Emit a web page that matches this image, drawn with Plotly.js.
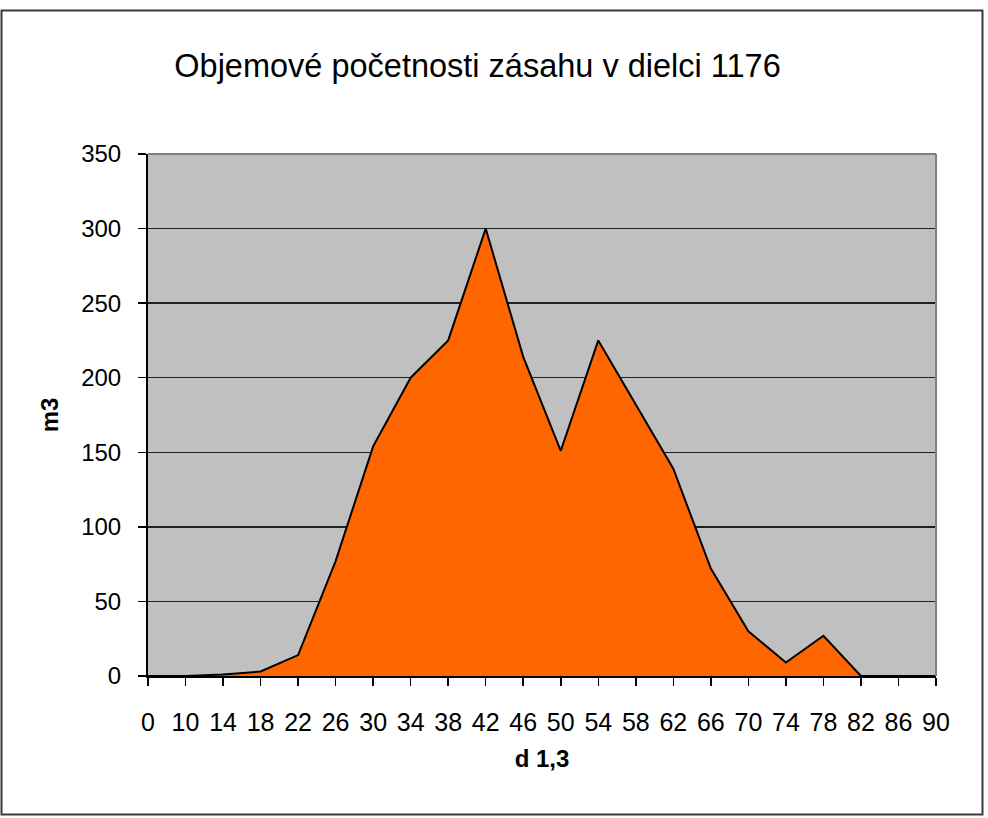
<!DOCTYPE html>
<html>
<head>
<meta charset="utf-8">
<script src="https://cdn.plot.ly/plotly-3.0.1.min.js"></script>
<style>
  html, body { margin: 0; padding: 0; background: #ffffff; }
  #chart { width: 988px; height: 818px; }
</style>
</head>
<body>
<div id="chart"></div>
<script>
// Diameter classes (category axis)
const categories = ["0","10","14","18","22","26","30","34","38","42","46","50","54","58","62","66","70","74","78","82","86","90"];
// Volume (m3) per class
const volumes = [0, 0, 1, 3, 14, 77, 154, 200, 225, 300, 214, 151, 225, 182, 139, 72, 30, 9, 27, 0, 0, 0];
const yTicks = [0, 50, 100, 150, 200, 250, 300, 350];

const chartTitle = "Objemové početnosti zásahu v dielci 1176";
const xTitle = "d 1,3";
const yTitle = "m3";

const W = 988, H = 818;
const mL = 148, mR = 52, mT = 154, mB = 142;
const pw = W - mL - mR, ph = H - mT - mB;
const px = v => (v - mL) / pw;
const py = v => (H - mB - v) / ph;

const font = "Liberation Sans, Arial, sans-serif";

const trace = {
  type: "scatter",
  mode: "lines",
  x: categories,
  y: volumes,
  fill: "tozeroy",
  fillcolor: "#FF6600",
  line: { color: "#000000", width: 2 },
  hoverinfo: "x+y"
};

const layout = {
  width: W, height: H,
  margin: { l: mL, r: mR, t: mT, b: mB, pad: 0 },
  paper_bgcolor: "#ffffff",
  plot_bgcolor: "#C0C0C0",
  showlegend: false,
  title: {
    text: chartTitle,
    font: { family: font, size: 32.5, color: "#000000" },
    x: 477.5 / W, xanchor: "center",
    y: 1 - 66 / H, yanchor: "middle",
    xref: "container", yref: "container"
  },
  xaxis: {
    type: "category",
    categoryorder: "array",
    categoryarray: categories,
    range: [0, categories.length - 1],
    showgrid: false,
    zeroline: false,
    showline: true, linecolor: "#000000", linewidth: 2,
    ticks: "outside", ticklen: 8, tickwidth: 1.5, tickcolor: "#000000",
    tickfont: { family: font, size: 25, color: "#000000" },
    ticklabelstandoff: 15,
    title: { text: xTitle, font: { family: font, size: 24, color: "#000000", weight: "bold" }, standoff: 15 },
    automargin: false,
    fixedrange: true
  },
  yaxis: {
    range: [0, 350],
    tickvals: yTicks,
    ticktext: yTicks.map(String),
    showgrid: true, gridcolor: "#202020", gridwidth: 1.5,
    zeroline: false,
    showline: true, linecolor: "#000000", linewidth: 2,
    ticks: "outside", ticklen: 8, tickwidth: 1.5, tickcolor: "#000000",
    tickfont: { family: font, size: 24, color: "#000000" },
    ticklabelstandoff: 12,
    title: { text: yTitle, font: { family: font, size: 24, color: "#000000", weight: "bold" }, standoff: 16 },
    automargin: false,
    fixedrange: true
  },
  shapes: [
    // plot area top/right border (grey)
    { type: "line", xref: "paper", yref: "paper", x0: 0, x1: 1, y0: 1, y1: 1, line: { color: "#808080", width: 2 }, layer: "above" },
    { type: "line", xref: "paper", yref: "paper", x0: 1, x1: 1, y0: 0, y1: 1, line: { color: "#808080", width: 2 }, layer: "above" },
    // chart outer frame
    { type: "rect", xref: "paper", yref: "paper",
      x0: px(1.5), x1: px(982.5), y0: py(814.5), y1: py(10.5),
      line: { color: "#3a3a3a", width: 2 }, fillcolor: "rgba(0,0,0,0)", layer: "above" }
  ]
};

Plotly.newPlot("chart", [trace], layout, { staticPlot: true, displayModeBar: false });
</script>
</body>
</html>
